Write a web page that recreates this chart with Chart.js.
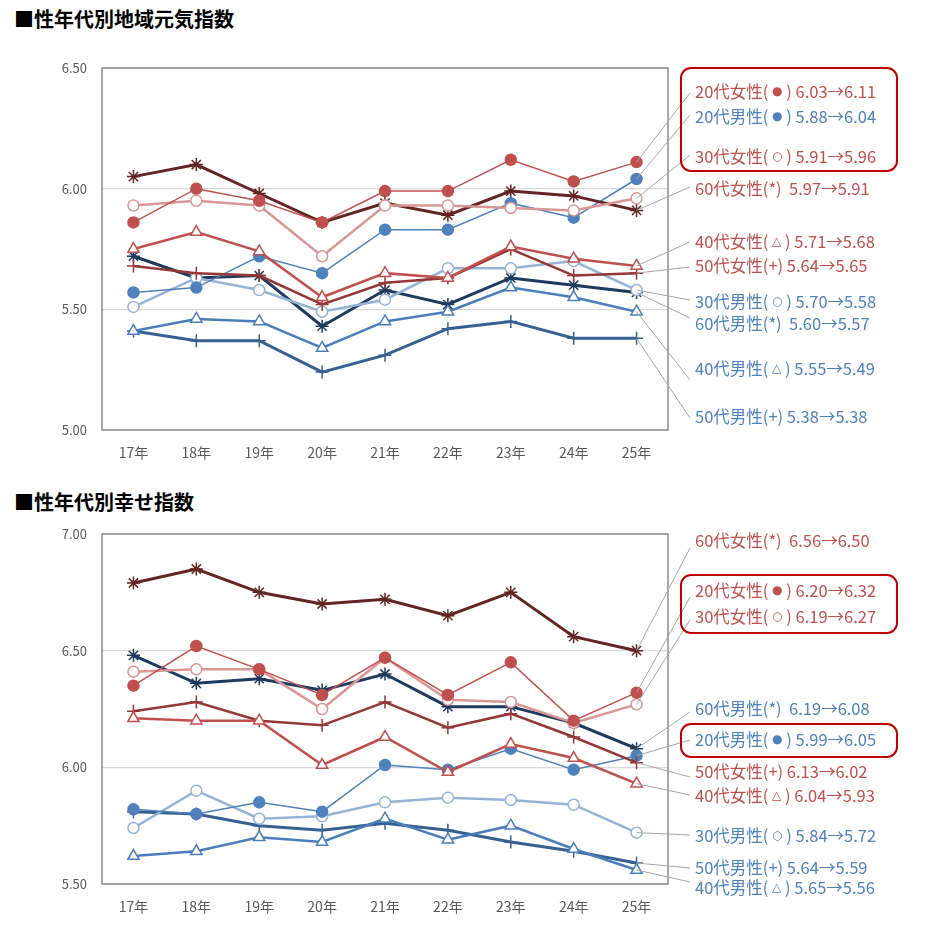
<!DOCTYPE html>
<html lang="ja">
<head>
<meta charset="utf-8">
<script src="https://cdn.jsdelivr.net/npm/chart.js@4"></script>
<style>
  body { margin: 0; background: #fff; width: 932px; height: 940px; position: relative; overflow: hidden; font-family: "Noto Sans CJK JP", sans-serif; }
  .ttl { position: absolute; left: 14px; font-size: 20px; font-weight: bold; color: #000; line-height: 1; }
  canvas { position: absolute; left: 0; }
</style>
</head>
<body>
<div class="ttl" style="top:9px">■性年代別地域元気指数</div>
<div class="ttl" style="top:492px">■性年代別幸せ指数</div>
<canvas id="genki" width="932" height="470" style="top:0"></canvas>
<canvas id="shiawase" width="932" height="470" style="top:470px"></canvas>
<script>
const years = ["17年", "18年", "19年", "20年", "21年", "22年", "23年", "24年", "25年"];
const groups = ["20代女性", "30代女性", "40代女性", "50代女性", "60代女性", "20代男性", "30代男性", "40代男性", "50代男性", "60代男性"];
const marks = ["●", "○", "△", "+", "*", "●", "○", "△", "+", "*"];

// 地域元気指数
const genkiF20 = [5.86, 6.00, 5.95, 5.86, 5.99, 5.99, 6.12, 6.03, 6.11];
const genkiF30 = [5.93, 5.95, 5.93, 5.72, 5.93, 5.93, 5.92, 5.91, 5.96];
const genkiF40 = [5.75, 5.82, 5.74, 5.55, 5.65, 5.63, 5.76, 5.71, 5.68];
const genkiF50 = [5.68, 5.65, 5.64, 5.52, 5.61, 5.63, 5.75, 5.64, 5.65];
const genkiF60 = [6.05, 6.10, 5.98, 5.86, 5.94, 5.89, 5.99, 5.97, 5.91];
const genkiM20 = [5.57, 5.59, 5.72, 5.65, 5.83, 5.83, 5.94, 5.88, 6.04];
const genkiM30 = [5.51, 5.63, 5.58, 5.49, 5.54, 5.67, 5.67, 5.70, 5.58];
const genkiM40 = [5.41, 5.46, 5.45, 5.34, 5.45, 5.49, 5.59, 5.55, 5.49];
const genkiM50 = [5.41, 5.37, 5.37, 5.24, 5.31, 5.42, 5.45, 5.38, 5.38];
const genkiM60 = [5.72, 5.63, 5.64, 5.43, 5.58, 5.52, 5.63, 5.60, 5.57];
const genkiTicks = [5.0, 5.5, 6.0, 6.5];

// 幸せ指数
const shiawaseF20 = [6.35, 6.52, 6.42, 6.31, 6.47, 6.31, 6.45, 6.20, 6.32];
const shiawaseF30 = [6.41, 6.42, 6.42, 6.25, 6.47, 6.29, 6.28, 6.19, 6.27];
const shiawaseF40 = [6.21, 6.20, 6.20, 6.01, 6.13, 5.98, 6.10, 6.04, 5.93];
const shiawaseF50 = [6.24, 6.28, 6.20, 6.18, 6.28, 6.17, 6.23, 6.13, 6.02];
const shiawaseF60 = [6.79, 6.85, 6.75, 6.70, 6.72, 6.65, 6.75, 6.56, 6.50];
const shiawaseM20 = [5.82, 5.80, 5.85, 5.81, 6.01, 5.99, 6.08, 5.99, 6.05];
const shiawaseM30 = [5.74, 5.90, 5.78, 5.79, 5.85, 5.87, 5.86, 5.84, 5.72];
const shiawaseM40 = [5.62, 5.64, 5.70, 5.68, 5.78, 5.69, 5.75, 5.65, 5.56];
const shiawaseM50 = [5.81, 5.80, 5.75, 5.73, 5.76, 5.73, 5.68, 5.64, 5.59];
const shiawaseM60 = [6.48, 6.36, 6.38, 6.33, 6.40, 6.26, 6.26, 6.19, 6.08];
const shiawaseTicks = [5.5, 6.0, 6.5, 7.0];

// line look per group (same order as groups)
const lineColors = ["#c0504d", "#d99694", "#c0504d", "#953735", "#632523", "#4f81bd", "#95b3d7", "#4a7ebb", "#376092", "#1f3a5f"];
const lineWidths = [1.5, 2.5, 2.5, 2.5, 3, 1.5, 2.5, 2.5, 3, 3];
const pointStyles = ["circle", "circle", "triangle", "cross", "star", "circle", "circle", "triangle", "cross", "star"];
const filled = [true, false, false, false, false, true, false, false, false, false];

// note layout (page y of text, page y where leader line ends)
const genkiNoteY = [92, 157, 242, 266, 189, 117, 302, 369, 417, 324];
const genkiLeadY = [93, 155, 242, 267, 187, 115, 300, 380, 418, 318];
const genkiBoxes = [[681, 68, 216, 103]];
const shiawaseNoteY = [591, 617, 796, 772, 541, 740, 836, 888, 868, 709];
const shiawaseLeadY = [597, 620, 795, 777, 548, 740, 835, 882, 868, 712];
const shiawaseBoxes = [[681, 575, 216, 58], [681, 724, 216, 33]];

const noteFont = '16.5px "Noto Sans CJK JP"';
const markFont = '12px "DejaVu Sans"';

function roundRect(ctx, x, y, w, h, r) {
  ctx.beginPath();
  ctx.moveTo(x + r, y);
  ctx.arcTo(x + w, y, x + w, y + h, r);
  ctx.arcTo(x + w, y + h, x, y + h, r);
  ctx.arcTo(x, y + h, x, y, r);
  ctx.arcTo(x, y, x + w, y, r);
  ctx.closePath();
}

// text pieces drawn one after another, the round/triangle marker smaller like the original
function drawNote(ctx, x, y, parts) {
  parts.forEach(([t, f]) => {
    ctx.font = f;
    ctx.fillText(t, x, y);
    x += ctx.measureText(t).width;
  });
}

function makeChart(id, top, padTop, axisH, series, ticks, noteY, leadY, boxes) {
  const frame = {
    id: "frame",
    beforeDatasetsDraw(chart) {
      const { ctx, chartArea: a } = chart;
      ctx.save();
      ctx.strokeStyle = "#8c8c8c";
      ctx.lineWidth = 1.5;
      ctx.strokeRect(a.left, a.top, a.right - a.left, a.bottom - a.top);
      ctx.restore();
    },
    afterDraw(chart) {
      const ctx = chart.ctx;
      ctx.save();
      // leader lines
      ctx.strokeStyle = "#a6a6a6";
      ctx.lineWidth = 1;
      series.forEach((s, i) => {
        const pt = chart.getDatasetMeta(i).data[s.length - 1];
        ctx.beginPath();
        ctx.moveTo(pt.x, pt.y);
        ctx.lineTo(690, leadY[i] - top);
        ctx.stroke();
      });
      // labels
      ctx.textBaseline = "middle";
      series.forEach((s, i) => {
        const gap = marks[i] === "*" ? "  " : " ";
        const vals = gap + s[s.length - 2].toFixed(2) + "→" + s[s.length - 1].toFixed(2);
        const small = "●○△".includes(marks[i]);
        ctx.fillStyle = i < 5 ? "#c0504d" : "#4f81bd";
        drawNote(ctx, 695, noteY[i] - top, [
          [groups[i] + "(" + (small ? " " : ""), noteFont],
          [marks[i], small ? markFont : noteFont],
          [(small ? " " : "") + ")" + vals, noteFont]
        ]);
      });
      // highlight boxes
      ctx.strokeStyle = "#c00000";
      ctx.lineWidth = 2;
      boxes.forEach(b => {
        roundRect(ctx, b[0], b[1] - top, b[2], b[3], 10);
        ctx.stroke();
      });
      ctx.restore();
    }
  };

  new Chart(document.getElementById(id), {
    type: "line",
    data: {
      labels: years,
      datasets: series.map((s, i) => ({
        label: groups[i],
        data: s,
        borderColor: lineColors[i],
        borderWidth: lineWidths[i],
        pointStyle: pointStyles[i],
        pointRadius: pointStyles[i] === "circle" ? 5.5 : 6.5,
        pointBackgroundColor: filled[i] ? lineColors[i] : "#fff",
        pointBorderColor: lineColors[i],
        pointBorderWidth: 1.5,
        tension: 0
      }))
    },
    options: {
      responsive: false,
      animation: false,
      layout: { padding: { top: padTop, right: 264, left: 0, bottom: 0 } },
      plugins: { legend: { display: false }, tooltip: { enabled: false } },
      scales: {
        x: {
          offset: true,
          grid: { display: false, drawTicks: false },
          border: { display: false },
          ticks: { color: "#595959", font: { size: 14, family: "Noto Sans CJK JP" }, padding: 14 },
          afterFit: s => { s.height = axisH; }
        },
        y: {
          min: ticks[0],
          max: ticks[ticks.length - 1],
          afterBuildTicks: s => { s.ticks = ticks.map(v => ({ value: v })); },
          grid: { color: "#d9d9d9", lineWidth: 1.3, drawTicks: false },
          border: { display: false },
          ticks: { color: "#595959", font: { size: 13, family: "Noto Sans CJK JP" }, padding: 15, callback: v => v.toFixed(2) },
          afterFit: s => { s.width = 102; }
        }
      }
    },
    plugins: [frame]
  });
}

makeChart("genki", 0, 68, 40,
  [genkiF20, genkiF30, genkiF40, genkiF50, genkiF60, genkiM20, genkiM30, genkiM40, genkiM50, genkiM60],
  genkiTicks, genkiNoteY, genkiLeadY, genkiBoxes);

makeChart("shiawase", 470, 64, 56,
  [shiawaseF20, shiawaseF30, shiawaseF40, shiawaseF50, shiawaseF60, shiawaseM20, shiawaseM30, shiawaseM40, shiawaseM50, shiawaseM60],
  shiawaseTicks, shiawaseNoteY, shiawaseLeadY, shiawaseBoxes);
</script>
</body>
</html>
